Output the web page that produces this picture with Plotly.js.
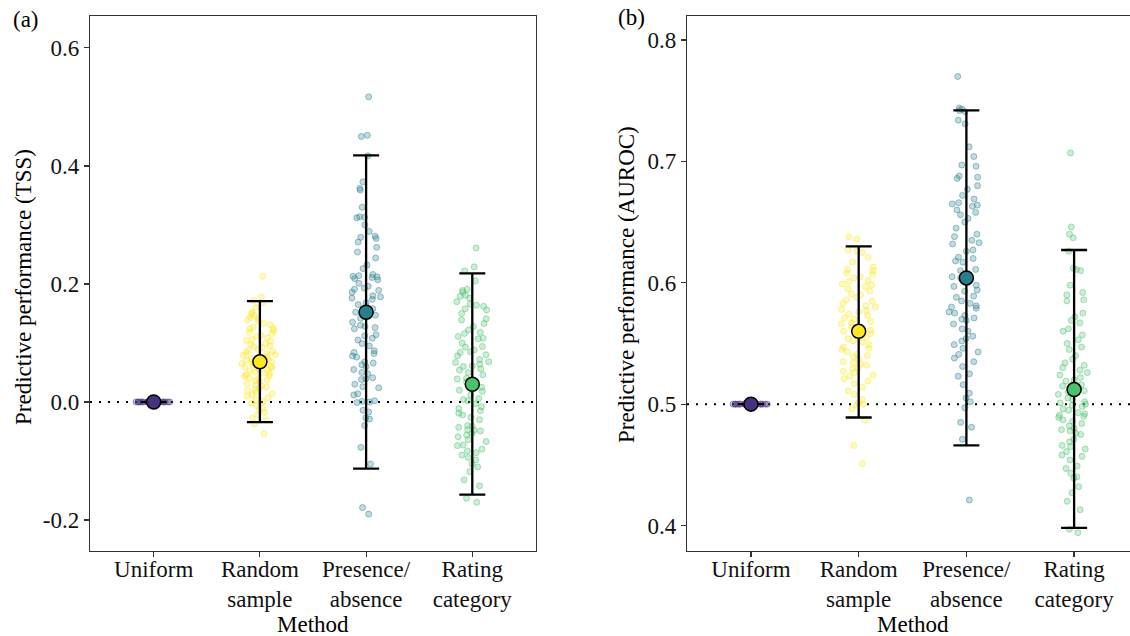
<!DOCTYPE html>
<html>
<head>
<meta charset="utf-8">
<script src="https://cdn.plot.ly/plotly-3.0.1.min.js"></script>
<style>html,body{margin:0;padding:0;background:#fff;}#chart{width:1130px;height:636px;}</style>
</head>
<body>
<div id="chart"></div>
<script>
// ---------- data ----------
const categories = ['Uniform', 'Random sample', 'Presence/absence', 'Rating category'];
const tickLabels = ['Uniform', 'Random<br>sample', 'Presence/<br>absence', 'Rating<br>category'];
const colors = ['#46327E', '#FDE725', '#277F8E', '#4AC16D'];

// Panel (a): TSS
const tssUniform = [0,0,0,0,0,0,0,0,0,0,0,0,0,0,0,0,0,0,0,0];
const tssRandom = [0.213,0.178,0.172,0.168,0.160,0.152,0.149,0.147,0.143,0.141,0.139,0.137,0.133,0.131,0.127,0.125,0.124,0.121,0.118,0.116,0.113,0.111,0.109,0.106,0.104,0.103,0.099,0.097,0.095,0.094,0.092,0.089,0.087,0.086,0.084,0.082,0.080,0.079,0.077,0.075,0.074,0.072,0.071,0.069,0.068,0.066,0.065,0.063,0.062,0.060,0.059,0.058,0.056,0.055,0.053,0.051,0.049,0.048,0.046,0.044,0.043,0.041,0.039,0.037,0.036,0.034,0.031,0.029,0.027,0.025,0.024,0.021,0.019,0.017,0.014,0.012,0.010,0.007,0.004,0.001,-0.002,-0.006,-0.010,-0.013,-0.018,-0.022,-0.027,-0.031,-0.037,-0.054];
const tssPresence = [0.517,0.452,0.450,0.417,0.373,0.362,0.359,0.330,0.314,0.313,0.312,0.300,0.289,0.281,0.279,0.277,0.271,0.262,0.254,0.244,0.232,0.226,0.216,0.214,0.213,0.212,0.211,0.209,0.207,0.201,0.196,0.193,0.191,0.189,0.186,0.180,0.178,0.176,0.174,0.168,0.165,0.158,0.152,0.150,0.147,0.142,0.135,0.130,0.128,0.126,0.124,0.114,0.112,0.108,0.105,0.099,0.095,0.087,0.084,0.082,0.078,0.076,0.068,0.066,0.063,0.060,0.055,0.050,0.048,0.041,0.039,0.038,0.030,0.026,0.024,0.014,0.012,0.002,0.001,0.000,-0.001,-0.014,-0.017,-0.027,-0.029,-0.040,-0.077,-0.105,-0.179,-0.190];
const tssRating = [0.261,0.229,0.222,0.205,0.191,0.189,0.186,0.181,0.179,0.176,0.170,0.166,0.164,0.162,0.158,0.156,0.150,0.141,0.139,0.133,0.128,0.122,0.118,0.116,0.111,0.108,0.107,0.100,0.094,0.093,0.088,0.085,0.084,0.080,0.078,0.072,0.068,0.067,0.064,0.061,0.060,0.056,0.054,0.050,0.046,0.040,0.039,0.034,0.032,0.025,0.020,0.018,0.012,0.006,0.004,0.002,-0.003,-0.008,-0.011,-0.015,-0.019,-0.022,-0.026,-0.030,-0.040,-0.041,-0.043,-0.047,-0.048,-0.049,-0.053,-0.056,-0.059,-0.064,-0.067,-0.073,-0.074,-0.080,-0.083,-0.086,-0.090,-0.094,-0.098,-0.105,-0.110,-0.118,-0.132,-0.142,-0.163,-0.170];
const tssMean = [0, 0.068, 0.152, 0.030];
const tssLow  = [null, -0.034, -0.113, -0.157];
const tssHigh = [null, 0.171, 0.418, 0.218];

// Panel (b): AUROC
const aucUniform = [0.5,0.5,0.5,0.5,0.5,0.5,0.5,0.5,0.5,0.5,0.5,0.5,0.5,0.5,0.5,0.5,0.5,0.5,0.5,0.5];
const aucRandom = [0.638,0.636,0.627,0.626,0.625,0.621,0.617,0.613,0.611,0.610,0.608,0.607,0.605,0.604,0.602,0.601,0.599,0.598,0.597,0.595,0.593,0.591,0.590,0.588,0.586,0.585,0.583,0.581,0.580,0.578,0.577,0.576,0.574,0.573,0.571,0.570,0.568,0.567,0.566,0.564,0.563,0.561,0.560,0.558,0.557,0.555,0.554,0.552,0.551,0.549,0.547,0.546,0.545,0.543,0.541,0.540,0.539,0.537,0.535,0.534,0.533,0.532,0.530,0.529,0.527,0.526,0.524,0.523,0.521,0.519,0.517,0.514,0.511,0.508,0.504,0.501,0.500,0.499,0.496,0.487,0.466,0.451];
const aucPresence = [0.770,0.744,0.743,0.742,0.741,0.734,0.731,0.712,0.704,0.697,0.696,0.688,0.687,0.686,0.680,0.677,0.672,0.669,0.666,0.665,0.664,0.663,0.660,0.658,0.656,0.653,0.650,0.645,0.640,0.638,0.635,0.633,0.632,0.627,0.626,0.621,0.620,0.618,0.617,0.611,0.610,0.605,0.604,0.601,0.598,0.597,0.594,0.593,0.589,0.588,0.585,0.583,0.581,0.580,0.579,0.576,0.575,0.573,0.571,0.570,0.569,0.566,0.562,0.560,0.556,0.554,0.552,0.549,0.546,0.543,0.541,0.538,0.535,0.531,0.525,0.523,0.516,0.509,0.505,0.502,0.497,0.485,0.481,0.471,0.421];
const aucRating = [0.707,0.646,0.640,0.637,0.626,0.612,0.611,0.610,0.598,0.592,0.590,0.586,0.585,0.575,0.572,0.569,0.567,0.562,0.560,0.557,0.553,0.550,0.547,0.545,0.540,0.537,0.534,0.532,0.530,0.528,0.526,0.524,0.522,0.520,0.519,0.516,0.515,0.513,0.511,0.510,0.508,0.505,0.504,0.502,0.501,0.500,0.499,0.498,0.496,0.495,0.493,0.492,0.491,0.490,0.489,0.487,0.486,0.484,0.482,0.480,0.479,0.478,0.476,0.475,0.471,0.469,0.466,0.465,0.463,0.461,0.458,0.457,0.454,0.449,0.447,0.443,0.440,0.439,0.432,0.427,0.420,0.413,0.397,0.394];
const aucMean = [0.5, 0.560, 0.604, 0.512];
const aucLow  = [null, 0.489, 0.466, 0.398];
const aucHigh = [null, 0.630, 0.742, 0.627];

// ---------- helpers ----------
const W = 1130, H = 636;
const px = v => v / W;
const py = v => 1 - v / H;
function rgba(hex, a) {
  const n = parseInt(hex.slice(1), 16);
  return `rgba(${(n >> 16) & 255},${(n >> 8) & 255},${n & 255},${a})`;
}
const FONT = 'Liberation Serif, Times New Roman, serif';
const FS = 23;

function jitterTraces(groups, xa, ya) {
  return groups.map((vals, i) => ({
    type: 'box', x: vals.map(() => categories[i]), y: vals,
    xaxis: xa, yaxis: ya,
    boxpoints: 'all', jitter: 0.7, pointpos: 0,
    fillcolor: 'rgba(0,0,0,0)', line: { color: 'rgba(0,0,0,0)', width: 0 },
    marker: { size: 6, color: rgba(colors[i], 0.28), line: { color: rgba(colors[i], 0.45), width: 1 } },
    hoverinfo: 'skip', showlegend: false
  }));
}
function meanTrace(mean, low, high, xa, ya) {
  return {
    type: 'scatter', mode: 'markers', x: categories, y: mean, xaxis: xa, yaxis: ya,
    marker: { size: 14, color: colors, line: { color: '#000', width: 1.5 } },
    error_y: {
      type: 'data', symmetric: false,
      array: high.map((h, i) => h === null ? null : h - mean[i]),
      arrayminus: low.map((l, i) => l === null ? null : mean[i] - l),
      color: '#000', thickness: 2.3, width: 13
    },
    showlegend: false, hoverinfo: 'skip'
  };
}

const data = [
  ...jitterTraces([tssUniform, tssRandom, tssPresence, tssRating], 'x', 'y'),
  ...jitterTraces([aucUniform, aucRandom, aucPresence, aucRating], 'x2', 'y2'),
  meanTrace(tssMean, tssLow, tssHigh, 'x', 'y'),
  meanTrace(aucMean, aucLow, aucHigh, 'x2', 'y2')
];

const axisLine = { showline: true, linecolor: '#333', linewidth: 1.2, ticks: 'outside', ticklen: 5, tickwidth: 1.2, tickcolor: '#333',
  showgrid: false, zeroline: false, tickfont: { family: FONT, size: FS, color: '#111' }, fixedrange: true };
const yDom = [py(551), py(16)];
const txt = { family: FONT, size: FS, color: '#000' };

const layout = {
  width: W, height: H, margin: { l: 0, r: 0, t: 0, b: 0 },
  paper_bgcolor: '#fff', plot_bgcolor: '#fff', showlegend: false,
  boxmode: 'overlay',
  xaxis: Object.assign({}, axisLine, { domain: [px(90), px(536)], anchor: 'y', type: 'category', categoryarray: categories,
    categoryorder: 'array', range: [-0.6, 3.6], tickvals: categories, ticktext: tickLabels, mirror: true, ticklabelstandoff: -8 }),
  yaxis: Object.assign({}, axisLine, { domain: yDom, anchor: 'x', range: [-0.2525, 0.654],
    tickvals: [-0.2, 0, 0.2, 0.4, 0.6], ticktext: ['-0.2', '0.0', '0.2', '0.4', '0.6'], mirror: true }),
  xaxis2: Object.assign({}, axisLine, { domain: [px(687), 1], anchor: 'y2', type: 'category', categoryarray: categories,
    categoryorder: 'array', range: [-0.594, 3.519], tickvals: categories, ticktext: tickLabels, mirror: true, ticklabelstandoff: -8 }),
  yaxis2: Object.assign({}, axisLine, { domain: yDom, anchor: 'x2', range: [0.379, 0.8198],
    tickvals: [0.4, 0.5, 0.6, 0.7, 0.8], ticktext: ['0.4', '0.5', '0.6', '0.7', '0.8'], mirror: false }),
  shapes: [
    { type: 'line', xref: 'x domain', yref: 'y', x0: 0, x1: 1, y0: 0, y1: 0, layer: 'below',
      line: { color: '#000', width: 2, dash: '2px,7px' } },
    { type: 'line', xref: 'x2 domain', yref: 'y2', x0: 0, x1: 1, y0: 0.5, y1: 0.5, layer: 'below',
      line: { color: '#000', width: 2, dash: '2px,7px' } }
  ],
  annotations: [
    { text: '(a)', xref: 'paper', yref: 'paper', x: px(11), y: py(19), xanchor: 'left', yanchor: 'middle', showarrow: false, font: txt },
    { text: '(b)', xref: 'paper', yref: 'paper', x: px(616), y: py(18), xanchor: 'left', yanchor: 'middle', showarrow: false, font: txt },
    { text: 'Predictive performance (TSS)', xref: 'paper', yref: 'paper', x: px(23), y: py(287), xanchor: 'center', yanchor: 'middle',
      textangle: -90, showarrow: false, font: txt },
    { text: 'Predictive performance (AUROC)', xref: 'paper', yref: 'paper', x: px(626), y: py(285), xanchor: 'center', yanchor: 'middle',
      textangle: -90, showarrow: false, font: txt },
    { text: 'Method', xref: 'paper', yref: 'paper', x: px(313), y: py(624), xanchor: 'center', yanchor: 'middle', showarrow: false,
      borderpad: 0, font: txt },
    { text: 'Method', xref: 'paper', yref: 'paper', x: px(913), y: py(624), xanchor: 'center', yanchor: 'middle', showarrow: false,
      borderpad: 0, font: txt }
  ]
};

Plotly.newPlot('chart', data, layout, { staticPlot: true, displayModeBar: false });
</script>
</body>
</html>
